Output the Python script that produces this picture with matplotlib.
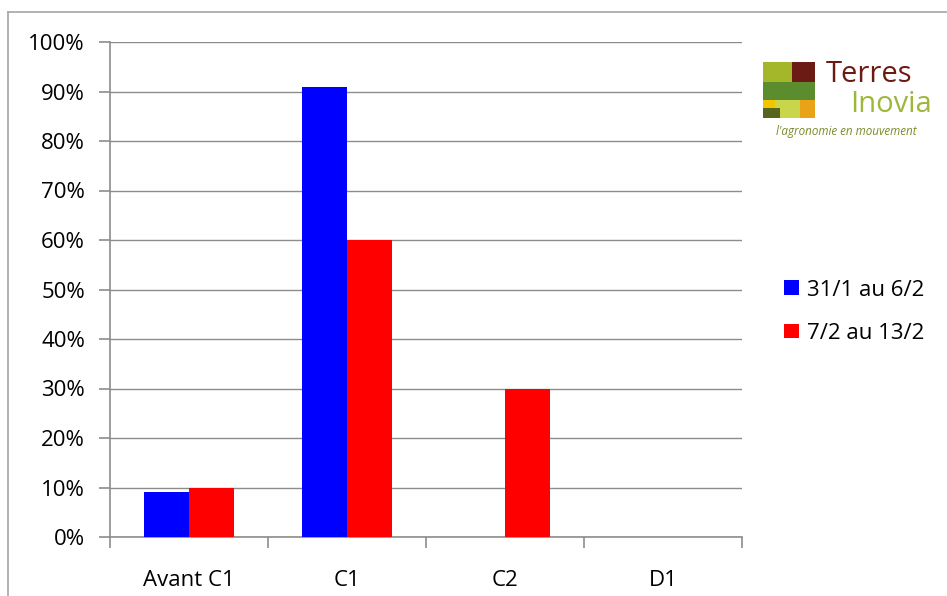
import numpy as np
import matplotlib
matplotlib.use("Agg")
import matplotlib.pyplot as plt
from matplotlib.patches import Rectangle
from matplotlib.lines import Line2D

categories = ["Avant C1", "C1", "C2", "D1"]
week1 = [9, 91, 0, 0]
week2 = [10, 60, 30, 0]
series_labels = ["31/1 au 6/2", "7/2 au 13/2"]
yticks = [0, 10, 20, 30, 40, 50, 60, 70, 80, 90, 100]

plt.rcParams["font.family"] = ["Open Sans", "DejaVu Sans"]

W, H = 947, 596
fig = plt.figure(figsize=(W / 100, H / 100), dpi=100, facecolor="white")

# outer chart border (left and top only visible)
fig.add_artist(Line2D([8 / W, 8 / W], [0, 1 - 12 / H], transform=fig.transFigure, color="#a6a6a6", lw=1.2))
fig.add_artist(Line2D([8 / W, 1], [1 - 12 / H, 1 - 12 / H], transform=fig.transFigure, color="#a6a6a6", lw=1.2))

ax = fig.add_axes([110 / W, 1 - 537 / H, (742 - 110) / W, (537 - 42) / H])
x = np.arange(len(categories))
bw = 0.285
ax.bar(x - bw / 2, week1, bw, color="#0000ff", label=series_labels[0], zorder=3)
ax.bar(x + bw / 2, week2, bw, color="#ff0000", label=series_labels[1], zorder=3)

ax.set_xlim(-0.5, len(categories) - 0.5)
ax.set_ylim(0, 100)
ax.set_yticks(yticks)
ax.set_yticklabels([f"{v}%" for v in yticks])
ax.yaxis.grid(True, color="#8c8c8c", lw=1)
ax.set_axisbelow(True)

ax.set_xticks(np.arange(-0.5, len(categories), 1))
ax.set_xticklabels([])
ax.set_xticks(x, minor=True)
ax.set_xticklabels(categories, minor=True)
ax.tick_params(axis="x", which="minor", length=0, pad=24, labelsize=16)
ax.tick_params(axis="x", which="major", length=8, color="#8c8c8c", width=1.2)
ax.tick_params(axis="y", length=8, color="#8c8c8c", width=1.2, labelsize=16, pad=10)

for s in ["top", "right"]:
    ax.spines[s].set_visible(False)
for s in ["left", "bottom"]:
    ax.spines[s].set_color("#8c8c8c")
    ax.spines[s].set_linewidth(1.2)

ax.legend(loc="center left", bbox_to_anchor=(1.035, 0.455), frameon=False, fontsize=16,
          handlelength=0.65, handleheight=0.65, handletextpad=0.4, labelspacing=1.0)

# Terres Inovia logo
def px(x0, y0, x1, y1, color):
    fig.add_artist(Rectangle((x0 / W, 1 - y1 / H), (x1 - x0) / W, (y1 - y0) / H,
                             transform=fig.transFigure, color=color, lw=0))

px(763, 62, 792, 82, "#a4b62a")
px(792, 62, 815, 82, "#6b1a14")
px(763, 82, 815, 100, "#5b8d2f")
px(763, 100, 775, 118, "#f2c500")
px(775, 100, 800, 118, "#c9d64a")
px(800, 100, 815, 118, "#e8a318")
px(763, 108, 780, 118, "#55641e")
fig.text(826 / W, 1 - 75 / H, "Terres", color="#6b1a14", fontsize=21, va="center", ha="left")
fig.text(932 / W, 1 - 105 / H, "Inovia", color="#9cb73a", fontsize=21, va="center", ha="right")
fig.text(846 / W, 1 - 131 / H, "l'agronomie en mouvement", color="#7a8c2a", fontsize=8.4,
         va="center", ha="center", style="italic")

fig.savefig("out.png", dpi=100, facecolor="white")
